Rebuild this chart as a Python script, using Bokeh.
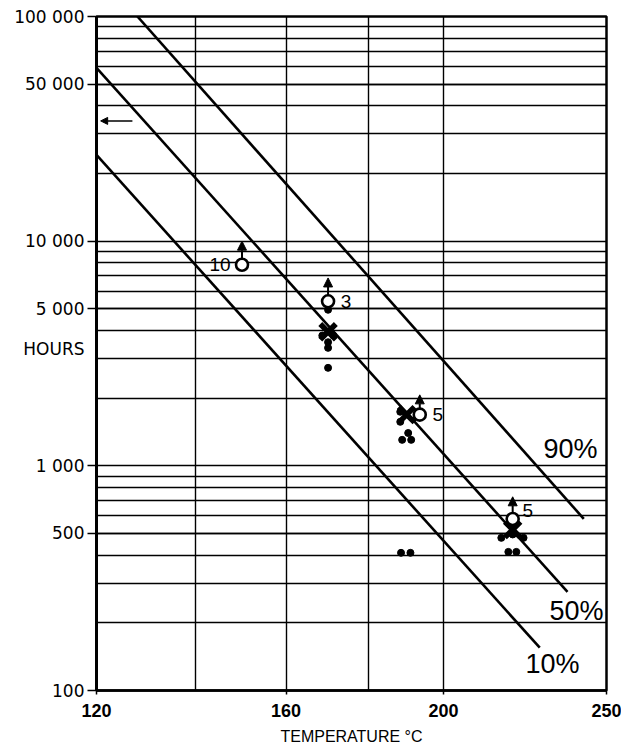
import numpy as np
from bokeh.plotting import figure
from bokeh.models import (Range1d, FixedTicker, LogAxis, Arrow, NormalHead,
                          ColumnDataSource)
from bokeh.core.properties import value
from bokeh.embed import file_html
from bokeh.resources import INLINE

# ---------------- data ----------------
# x axis ticks (temperature, deg C) and their labels
x_tick_T = [120, 160, 200, 250]
x_tick_labels = ["120", "160", "200", "250"]
x_minor_T = [140, 180]

y_tick_hours = [100, 500, 1000, 5000, 10000, 50000, 100000]
y_tick_labels = ["100", "500", "1 000", "5 000", "10 000", "50 000", "100 000"]
y_title = "HOURS"
y_title_hours = 3320

# failure-probability lines (two end points each)
line90_T = [128.0, 242.4]
line90_hours = [100000, 581]
line50_T = [120.0, 237.1]
line50_hours = [59000, 275]
line10_T = [120.0, 228.3]
line10_hours = [24200, 155]

pct_labels = ["90%", "50%", "10%"]
pct_T = [238.1, 240.0, 232.3]
pct_hours = [1190, 226, 131]

# open circles = unfailed specimens (with counts and arrows)
open_T = [150.0, 170.0, 193.5, 220.0]
open_hours = [7850, 5400, 1690, 580]
open_arrow_tip_hours = [10000, 6860, 2070, 728]
open_counts = ["10", "3", "5", "5"]

# crosses = median of failures
cross_T = [170.0, 190.0, 220.0]
cross_hours = [3950, 1690, 520]

# dots = individual failures
dot_T = [170.0, 168.6, 171.3, 170.0, 170.0, 170.0,
         188.3, 188.3, 190.4, 188.8, 191.2, 188.5, 191.0,
         216.6, 223.3, 220.0, 218.7, 221.1]
dot_hours = [4950, 3800, 3800, 3550, 3350, 2730,
             1740, 1570, 1400, 1305, 1305, 410, 410,
             478, 478, 495, 414, 414]

# arrow at the left edge
left_arrow_T = [127.0, 120.8]
left_arrow_hours = 34300


def u(T):
    """Arrhenius coordinate: 1000 / absolute temperature."""
    return 1000.0 / (np.asarray(T, dtype=float) + 273.15)


# ---------------- figure ----------------
p = figure(frame_width=510, frame_height=674,
           x_range=Range1d(float(u(120)), float(u(250))),
           y_range=Range1d(100, 100000), y_axis_type="log",
           output_backend="svg", toolbar_location=None,
           min_border_left=96, min_border_right=15, min_border_top=16,
           min_border_bottom=0)
p.background_fill_color = "white"
p.border_fill_color = "white"
p.outline_line_color = "black"
p.outline_line_width = 2.5

x_ticks = [float(v) for v in u(x_tick_T)]
p.xaxis.ticker = FixedTicker(ticks=x_ticks,
                             minor_ticks=[float(v) for v in u(x_minor_T)])
p.xaxis.major_label_overrides = {k: s for k, s in zip(x_ticks, x_tick_labels)}

# main y axis: only the tick marks (labels drawn by a second axis)
p.yaxis.ticker = FixedTicker(
    ticks=y_tick_hours,
    minor_ticks=[k * 10 ** n for n in range(2, 5) for k in range(2, 10)])
p.yaxis.major_label_overrides = {k: "" for k in y_tick_hours}
p.yaxis.major_label_standoff = 0
p.yaxis.major_label_text_font_size = "1px"

for ax in (p.xaxis, p.yaxis):
    ax.axis_line_color = "black"
    ax.major_tick_line_color = "black"
    ax.minor_tick_line_color = None
    ax.major_tick_in = 0
    ax.major_label_text_color = "black"

p.yaxis.axis_line_width = 3
p.yaxis.major_tick_out = 9
p.yaxis.major_tick_line_width = 1.5

# label axis: tick values plus the horizontal "HOURS" title
lab_axis = LogAxis(
    ticker=FixedTicker(ticks=y_tick_hours + [y_title_hours], minor_ticks=[]),
    major_label_overrides={**{k: s for k, s in zip(y_tick_hours, y_tick_labels)},
                           y_title_hours: y_title},
    axis_line_color=None, major_tick_line_color=None, minor_tick_line_color=None,
    major_tick_out=0, major_tick_in=0, major_label_standoff=3,
    major_label_text_font="DejaVu Sans", major_label_text_font_size="17px",
    major_label_text_color="black")
p.add_layout(lab_axis, "left")

p.xaxis.axis_line_width = 2.5
p.xaxis.major_tick_out = 4
p.xaxis.major_tick_line_width = 1.5
p.xaxis.major_label_standoff = 9
p.xaxis.major_label_text_font = "Liberation Sans"
p.xaxis.major_label_text_font_style = "bold"
p.xaxis.major_label_text_font_size = "18px"
p.xaxis.axis_label = "TEMPERATURE °C"
p.xaxis.axis_label_text_font = "Liberation Sans"
p.xaxis.axis_label_text_font_style = "normal"
p.xaxis.axis_label_text_font_size = "16px"
p.xaxis.axis_label_text_color = "black"
p.xaxis.axis_label_standoff = 8

for g in (p.xgrid, p.ygrid):
    g.grid_line_color = "black"
    g.grid_line_width = 1.4
    g.minor_grid_line_color = "black"
    g.minor_grid_line_width = 1.4

# probability lines
for T, H in ((line90_T, line90_hours), (line50_T, line50_hours),
             (line10_T, line10_hours)):
    p.line(u(T), H, line_color="black", line_width=2.6)

p.text(u(pct_T), pct_hours, text=pct_labels, text_font=value("Liberation Sans"),
       text_font_size="27px", text_align="center", text_baseline="middle",
       text_color="black")

# arrows above open circles
arr_src = ColumnDataSource(dict(x0=u(open_T), y0=open_hours,
                                x1=u(open_T), y1=open_arrow_tip_hours))
p.add_layout(Arrow(source=arr_src, x_start="x0", y_start="y0",
                   x_end="x1", y_end="y1", line_width=2, line_color="black",
                   end=NormalHead(size=9, fill_color="black",
                                  line_color="black"),
                   level="underlay"))

# left edge arrow
p.add_layout(Arrow(x_start=float(u(left_arrow_T[0])), y_start=left_arrow_hours,
                   x_end=float(u(left_arrow_T[1])), y_end=left_arrow_hours,
                   line_width=1.5, line_color="black",
                   end=NormalHead(size=7, fill_color="black",
                                  line_color="black")))

# failures
p.scatter(u(dot_T), dot_hours, marker="circle", size=7,
          fill_color="black", line_color="black")
p.scatter(u(cross_T), cross_hours, marker="x", size=22, line_width=5.5,
          line_color="black")
p.scatter(u(open_T), open_hours, marker="circle", size=12, line_width=2.6,
          fill_color="white", line_color="black")

# counts next to the open circles
x_off = [-22, 18, 18, 15]
y_off = [0, 0, 0, -8]
p.text(u(open_T), open_hours, text=open_counts, x_offset=x_off, y_offset=y_off,
       text_font=value("Liberation Sans"), text_font_size="19px",
       text_align="center", text_baseline="middle", text_color="black")

open("out.html", "w").write(file_html(p, INLINE))
